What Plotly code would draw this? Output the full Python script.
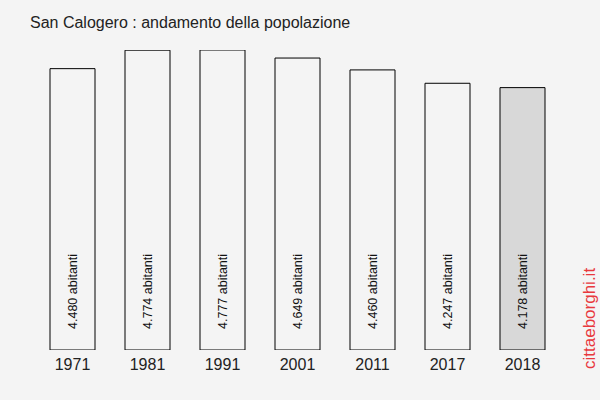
import plotly.graph_objects as go

years = ["1971", "1981", "1991", "2001", "2011", "2017", "2018"]
population = [4480, 4774, 4777, 4649, 4460, 4247, 4178]
labels = ["4.480 abitanti", "4.774 abitanti", "4.777 abitanti", "4.649 abitanti",
          "4.460 abitanti", "4.247 abitanti", "4.178 abitanti"]
title = "San Calogero : andamento della popolazione"
watermark = "cittaeborghi.it"

bg = "#f4f4f4"
fills = [bg] * (len(years) - 1) + ["#d8d8d8"]
FONT = "Liberation Sans, Arial, sans-serif"

fig = go.Figure()
fig.add_trace(go.Bar(
    x=years, y=population,
    marker=dict(color=fills, line=dict(color="#000000", width=1)),
    hoverinfo="skip",
))

for i, lab in enumerate(labels):
    fig.add_annotation(
        x=i, y=0, xref="x", yref="y", text=lab, textangle=-90,
        showarrow=False, yanchor="bottom", xanchor="center", yshift=19,
        font=dict(family=FONT, size=12.5, color="#111111"),
    )

fig.add_annotation(
    x=(589 - 35) / 525, y=(350 - 319) / 300, xref="paper", yref="paper",
    text=watermark, textangle=-90, showarrow=False,
    xanchor="center", yanchor="middle",
    font=dict(family=FONT, size=17, color="#e8383d"),
)

fig.update_layout(
    width=600, height=400,
    paper_bgcolor=bg, plot_bgcolor=bg,
    margin=dict(l=35, r=40, t=50, b=50),
    bargap=0.4,
    showlegend=False,
    title=dict(text=title, x=30 / 600, xanchor="left", y=1 - 22 / 400, yanchor="middle",
               font=dict(family=FONT, size=16, color="#222222")),
    xaxis=dict(type="category", range=[-0.5, len(years) - 0.5], showgrid=False,
               zeroline=False, showline=False, ticks="", ticklabelstandoff=3,
               tickfont=dict(family=FONT, size=16, color="#222222")),
    yaxis=dict(range=[0, 4777], visible=False, showgrid=False, zeroline=False),
)

fig.write_html("out.html")
